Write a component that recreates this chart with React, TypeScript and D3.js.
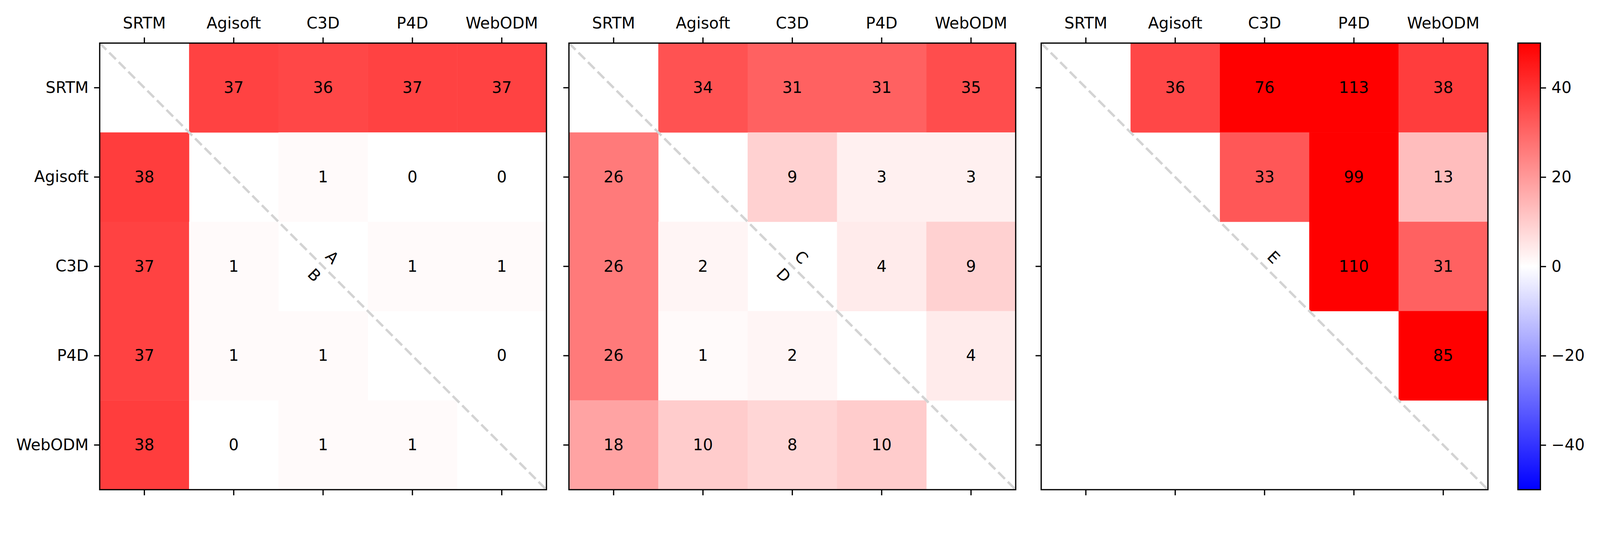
import { useEffect, useRef } from "react";
import * as d3 from "d3";

const W = 4269, H = 1365;
const FONT = "DejaVu Sans, sans-serif";
const FS = 42;

const labels = ["SRTM", "Agisoft", "C3D", "P4D", "WebODM"];

// rows = y labels, cols = x labels; null = empty cell
const panelAB = [
  [null, 37, 36, 37, 37],
  [38, null, 1, 0, 0],
  [37, 1, null, 1, 1],
  [37, 1, 1, null, 0],
  [38, 0, 1, 1, null],
];
const panelCD = [
  [null, 34, 31, 31, 35],
  [26, null, 9, 3, 3],
  [26, 2, null, 4, 9],
  [26, 1, 2, null, 4],
  [18, 10, 8, 10, null],
];
const panelE = [
  [null, 36, 76, 113, 38],
  [null, null, 33, 99, 13],
  [null, null, null, 110, 31],
  [null, null, null, null, 85],
  [null, null, null, null, null],
];
const panels = [panelAB, panelCD, panelE];
const upperTags = ["A", "C", "E"];
const lowerTags = ["B", "D", ""];
const cbTicks = [-40, -20, 0, 20, 40];

const panelLeft = [266, 1518, 2778];
const top = 115, size = 1192;
const cbX = 4050, cbW = 60;

const App = () => {
  const ref = useRef<SVGSVGElement>(null);

  useEffect(() => {
    const svg = d3.select(ref.current);
    svg.selectAll("*").remove();

    const color = d3.scaleLinear<string>()
      .domain([-50, 0, 50])
      .range(["#0000ff", "#ffffff", "#ff0000"])
      .clamp(true);

    panels.forEach((data, p) => {
      const x0 = panelLeft[p];
      const x = d3.scaleBand().domain(labels).range([x0, x0 + size]);
      const y = d3.scaleBand().domain(labels).range([top, top + size]);
      const bw = x.bandwidth();

      const cells = data.flatMap((row, r) =>
        row.map((v, c) => ({ r: labels[r], c: labels[c], v })).filter(d => d.v !== null));

      const g = svg.append("g");
      g.selectAll("rect.cell")
        .data(cells)
        .join("rect")
        .attr("class", "cell")
        .attr("x", d => x(d.c) as number)
        .attr("y", d => y(d.r) as number)
        .attr("width", bw + 0.5)
        .attr("height", bw + 0.5)
        .attr("fill", d => color(d.v as number));

      // diagonal
      g.append("line")
        .attr("x1", x0).attr("y1", top)
        .attr("x2", x0 + size).attr("y2", top + size)
        .attr("stroke", "#d3d3d3")
        .attr("stroke-width", 6.3)
        .attr("stroke-dasharray", "25 11");

      const cx = (x("C3D") as number) + bw / 2;
      const cy = (y("C3D") as number) + bw / 2;
      const off = 0.1 * bw;
      [[upperTags[p], off, -off], [lowerTags[p], -off, off]].forEach(([t, dx, dy]) => {
        g.append("text")
          .attr("transform", `translate(${cx + (dx as number)},${cy + (dy as number)}) rotate(45)`)
          .attr("text-anchor", "middle")
          .attr("dominant-baseline", "central")
          .attr("font-family", FONT)
          .attr("font-size", FS)
          .text(t as string);
      });

      g.selectAll("text.val")
        .data(cells)
        .join("text")
        .attr("class", "val")
        .attr("x", d => (x(d.c) as number) + bw / 2)
        .attr("y", d => (y(d.r) as number) + bw / 2)
        .attr("text-anchor", "middle")
        .attr("dominant-baseline", "central")
        .attr("font-family", FONT)
        .attr("font-size", FS)
        .text(d => d3.format(".0f")(d.v as number));

      // frame
      g.append("rect")
        .attr("x", x0).attr("y", top)
        .attr("width", size).attr("height", size)
        .attr("fill", "none")
        .attr("stroke", "black")
        .attr("stroke-width", 3.3);

      const styleAxis = (a: d3.Selection<SVGGElement, unknown, null, undefined>) => {
        a.select(".domain").remove();
        a.selectAll(".tick line").attr("stroke-width", 3.3);
        a.selectAll("text").attr("font-size", FS).attr("font-family", FONT).attr("fill", "black");
        a.attr("font-size", FS).attr("font-family", FONT);
      };

      g.append("g")
        .attr("transform", `translate(0,${top})`)
        .call(d3.axisTop(x).tickSize(15).tickPadding(24))
        .call(styleAxis);

      g.append("g")
        .attr("transform", `translate(0,${top + size})`)
        .call(d3.axisBottom(x).tickSize(15).tickFormat(() => ""))
        .call(styleAxis);

      g.append("g")
        .attr("transform", `translate(${x0},0)`)
        .call(d3.axisLeft(y).tickSize(15).tickPadding(14.6).tickFormat(t => (p === 0 ? t : "")))
        .call(styleAxis);
    });

    // colorbar
    const defs = svg.append("defs");
    const grad = defs.append("linearGradient")
      .attr("id", "bwr")
      .attr("x1", 0).attr("y1", 1).attr("x2", 0).attr("y2", 0);
    grad.append("stop").attr("offset", 0).attr("stop-color", color(-50));
    grad.append("stop").attr("offset", 0.5).attr("stop-color", color(0));
    grad.append("stop").attr("offset", 1).attr("stop-color", color(50));

    const cy = d3.scaleLinear().domain([-50, 50]).range([top + size, top]);
    svg.append("rect")
      .attr("x", cbX).attr("y", top)
      .attr("width", cbW).attr("height", size)
      .attr("fill", "url(#bwr)")
      .attr("stroke", "black")
      .attr("stroke-width", 3.3);

    const cbAxis = svg.append("g")
      .attr("transform", `translate(${cbX + cbW},0)`)
      .call(d3.axisRight(cy).tickValues(cbTicks).tickSize(15).tickPadding(14.6));
    cbAxis.select(".domain").remove();
    cbAxis.selectAll(".tick line").attr("stroke-width", 3.3);
    cbAxis.selectAll("text").attr("font-size", FS).attr("font-family", FONT).attr("fill", "black");

    return () => {
      d3.select(ref.current).selectAll("*").remove();
    };
  }, []);

  return (
    <div style={{ position: "fixed", left: 0, top: 0, width: "100vw", height: "100vh", overflow: "hidden" }}>
      <svg
        ref={ref}
        viewBox={`0 0 ${W} ${H}`}
        preserveAspectRatio="xMinYMin meet"
        style={{ display: "block", width: "100%", height: "100%", background: "white" }}
      />
    </div>
  );
};

export default App;
